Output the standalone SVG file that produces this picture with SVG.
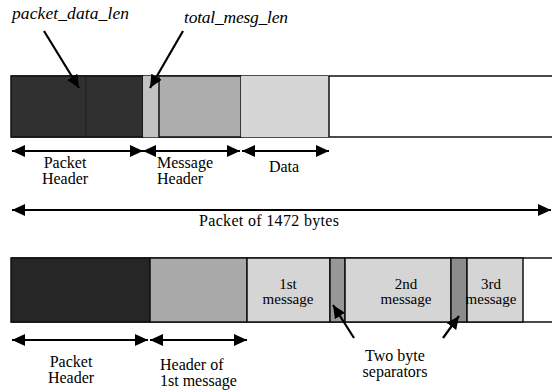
<svg xmlns="http://www.w3.org/2000/svg" width="552" height="392" viewBox="0 0 552 392">
<style>
  text { font-family: "Liberation Serif", "Times New Roman", serif; fill: #000; }
  .lbl { font-size: 16px; }
  .msg { font-size: 15px; }
  .it { font-size: 17.5px; font-style: italic; }
  .box { stroke: #111; stroke-width: 1.5; }
  .conn { stroke: #000; stroke-width: 2.2; fill: none; }
</style>
<defs>
  <marker id="ah" viewBox="0 0 13 12" refX="13" refY="6" markerWidth="13" markerHeight="12" markerUnits="userSpaceOnUse" orient="auto-start-reverse">
    <path d="M0,0 L13,6 L0,12 Z" fill="#000"/>
  </marker>
</defs>

<g id="top-bar">
  <line x1="11" y1="76" x2="552" y2="76" class="box"/>
  <line x1="11" y1="137" x2="552" y2="137" class="box"/>
  <rect id="top-packet-header" x="11" y="76" width="132" height="61" fill="#303030" class="box"/>
  <line x1="86" y1="77" x2="86" y2="136" stroke="#1c1c1c" stroke-width="1"/>
  <rect id="top-total-mesg-len" x="143" y="76" width="16" height="61" fill="#c2c2c2" stroke="none"/>
  <rect id="top-message-header" x="159" y="76" width="82" height="61" fill="#adadad" class="box"/>
  <rect id="top-data" x="241" y="76" width="88" height="61" fill="#d6d6d6" stroke="none"/>
  <line x1="329" y1="76" x2="329" y2="137" class="box"/>
</g>

<g id="bottom-bar">
  <line x1="11" y1="258" x2="552" y2="258" class="box"/>
  <line x1="11" y1="322" x2="552" y2="322" class="box"/>
  <rect id="bot-packet-header" x="11" y="258" width="139" height="64" fill="#262626" class="box"/>
  <rect id="bot-header-1st" x="150" y="258" width="97" height="64" fill="#a9a9a9" class="box"/>
  <g id="msg1">
    <rect x="247" y="258" width="83" height="64" fill="#d5d5d5" class="box"/>
    <text class="msg" x="288" y="289" text-anchor="middle">1st</text>
    <text class="msg" x="288" y="304" text-anchor="middle">message</text>
  </g>
  <rect id="sep1" x="330" y="258" width="15" height="64" fill="#989898" class="box"/>
  <g id="msg2">
    <rect x="345" y="258" width="106" height="64" fill="#d5d5d5" class="box"/>
    <text class="msg" x="406" y="289" text-anchor="middle">2nd</text>
    <text class="msg" x="406" y="304" text-anchor="middle">message</text>
  </g>
  <rect id="sep2" x="451" y="258" width="16" height="64" fill="#8c8c8c" class="box"/>
  <g id="msg3">
    <rect x="467" y="258" width="56" height="64" fill="#d5d5d5" class="box"/>
    <text class="msg" x="491" y="289" text-anchor="middle">3rd</text>
    <text class="msg" x="491" y="304" text-anchor="middle">message</text>
  </g>
</g>

<g id="labels">
  <text class="it" x="12" y="19" textLength="117">packet_data_len</text>
  <text class="it" x="184" y="23" textLength="104">total_mesg_len</text>
  <text class="lbl" x="65" y="168" text-anchor="middle">Packet</text>
  <text class="lbl" x="65" y="184" text-anchor="middle">Header</text>
  <text class="lbl" x="157" y="168">Message</text>
  <text class="lbl" x="157" y="184">Header</text>
  <text class="lbl" x="284" y="172" text-anchor="middle">Data</text>
  <text class="lbl" x="269" y="226" text-anchor="middle" textLength="140">Packet of 1472 bytes</text>
  <text class="lbl" x="71" y="367" text-anchor="middle">Packet</text>
  <text class="lbl" x="71" y="383" text-anchor="middle">Header</text>
  <text class="lbl" x="160" y="370">Header of</text>
  <text class="lbl" x="160" y="386">1st message</text>
  <text class="lbl" x="395" y="361" text-anchor="middle">Two byte</text>
  <text class="lbl" x="395" y="377" text-anchor="middle">separators</text>
</g>

<g id="connectors">
  <line class="conn" x1="44" y1="31" x2="79" y2="88" marker-end="url(#ah)"/>
  <line class="conn" x1="183" y1="31" x2="150" y2="88" marker-end="url(#ah)"/>
  <line class="conn" x1="12" y1="151" x2="143" y2="151" marker-start="url(#ah)" marker-end="url(#ah)"/>
  <line class="conn" x1="143" y1="151" x2="240" y2="151" marker-start="url(#ah)" marker-end="url(#ah)"/>
  <line class="conn" x1="242" y1="151" x2="329" y2="151" marker-start="url(#ah)" marker-end="url(#ah)"/>
  <line class="conn" x1="12" y1="210" x2="551" y2="210" marker-start="url(#ah)" marker-end="url(#ah)"/>
  <line class="conn" x1="12" y1="340" x2="148" y2="340" marker-start="url(#ah)" marker-end="url(#ah)"/>
  <line class="conn" x1="150" y1="340" x2="247" y2="340" marker-start="url(#ah)" marker-end="url(#ah)"/>
  <line class="conn" x1="354" y1="338" x2="333" y2="305" marker-end="url(#ah)"/>
  <line class="conn" x1="443" y1="338" x2="459" y2="316" marker-end="url(#ah)"/>
</g>
</svg>
